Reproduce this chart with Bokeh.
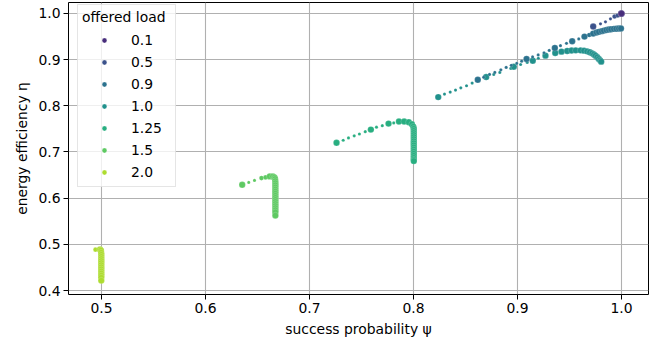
from bokeh.plotting import figure
from bokeh.models import Range1d, FixedTicker, Legend, LegendItem, ColumnDataSource
from bokeh.embed import file_html
from bokeh.resources import INLINE

# ---------------- data ----------------
loads = ["0.1", "0.5", "0.9", "1.0", "1.25", "1.5", "2.0"]

psi_01 = [0.9990, 0.9998, 1.0000]
eta_01 = [0.9990, 0.9998, 1.0000]
emph_01 = [1, 2, 2]

psi_05 = [0.9728, 0.9798, 0.9846, 0.9894, 0.9933, 0.9964, 0.9997]
eta_05 = [0.9717, 0.9776, 0.9820, 0.9885, 0.9935, 0.9957, 0.9993]
emph_05 = [2, 0, 0, 0, 1, 1, 2]

psi_09 = [0.8618, 0.8675, 0.8731, 0.8782, 0.8840, 0.8891, 0.8940, 0.8993, 0.9040,
          0.9087, 0.9145, 0.9199, 0.9255, 0.9305, 0.9359, 0.9413, 0.9471, 0.9526,
          0.9589, 0.9644, 0.9690, 0.9728, 0.9760, 0.9782, 0.9810, 0.9830, 0.9855,
          0.9878, 0.9900, 0.9926, 0.9950, 0.9974, 0.9995]
eta_09 = [0.8565, 0.8620, 0.8680, 0.8724, 0.8780, 0.8833, 0.8878, 0.8920, 0.8968,
          0.9015, 0.9060, 0.9102, 0.9150, 0.9200, 0.9254, 0.9304, 0.9354, 0.9398,
          0.9450, 0.9500, 0.9535, 0.9565, 0.9588, 0.9602, 0.9618, 0.9630, 0.9642,
          0.9652, 0.9660, 0.9667, 0.9671, 0.9674, 0.9676]
emph_09 = [2, 0, 0, 0, 0, 0, 0, 0, 0,
           2, 0, 0, 0, 0, 2, 0, 0, 2,
           0, 2, 1, 2, 2, 2, 2, 2, 2,
           2, 2, 2, 2, 2, 2]

psi_10 = [0.8238, 0.8298, 0.8353, 0.8404, 0.8455, 0.8510, 0.8564, 0.8618, 0.8699,
          0.8772, 0.8830, 0.8936, 0.8964, 0.9030, 0.9093, 0.9147, 0.9200, 0.9269,
          0.9363, 0.9423, 0.9478, 0.9520, 0.9560, 0.9606, 0.9640, 0.9670, 0.9695,
          0.9718, 0.9735, 0.9750, 0.9767, 0.9782, 0.9795, 0.9805]
eta_10 = [0.8189, 0.8254, 0.8298, 0.8341, 0.8391, 0.8435, 0.8493, 0.8540, 0.8624,
          0.8680, 0.8724, 0.8811, 0.8848, 0.8895, 0.8941, 0.8978, 0.9030, 0.9087,
          0.9146, 0.9174, 0.9189, 0.9198, 0.9202, 0.9202, 0.9195, 0.9180, 0.9160,
          0.9137, 0.9112, 0.9087, 0.9052, 0.9015, 0.8985, 0.8957]
emph_10 = [2, 0, 0, 0, 0, 0, 0, 0, 2,
           0, 0, 0, 2, 0, 0, 2, 0, 2,
           2, 2, 2, 2, 2, 2, 2, 2, 2,
           2, 2, 2, 2, 2, 2, 2]

psi_125 = [0.7260, 0.7324, 0.7375, 0.7430, 0.7480, 0.7536, 0.7590, 0.7644, 0.7700,
           0.7760, 0.7810, 0.7860, 0.7910, 0.7955, 0.7985, 0.7998, 0.8003, 0.8003,
           0.8003, 0.8003, 0.8003, 0.8003, 0.8003, 0.8003, 0.8003, 0.8003, 0.8003,
           0.8003, 0.8003, 0.8003, 0.8003, 0.8003, 0.8003]
eta_125 = [0.7200, 0.7254, 0.7304, 0.7350, 0.7390, 0.7440, 0.7485, 0.7537, 0.7570,
           0.7615, 0.7630, 0.7660, 0.7660, 0.7645, 0.7600, 0.7550, 0.7505, 0.7460,
           0.7415, 0.7370, 0.7325, 0.7280, 0.7235, 0.7190, 0.7145, 0.7100, 0.7055,
           0.7010, 0.6965, 0.6920, 0.6875, 0.6835, 0.6805]
emph_125 = [2, 0, 0, 0, 0, 0, 2, 0, 0,
            2, 0, 2, 2, 2, 2, 2, 2, 2,
            2, 2, 2, 2, 2, 2, 2, 2, 2,
            2, 2, 2, 2, 2, 2]

psi_15 = [0.6353, 0.6416, 0.6471, 0.6538, 0.6577, 0.6618, 0.6648, 0.6663, 0.6669,
          0.6671, 0.6672, 0.6672, 0.6672, 0.6672, 0.6672, 0.6672, 0.6672, 0.6672,
          0.6672, 0.6672, 0.6672, 0.6672, 0.6672, 0.6672, 0.6672, 0.6672]
eta_15 = [0.6290, 0.6341, 0.6385, 0.6435, 0.6450, 0.6472, 0.6468, 0.6448, 0.6415,
          0.6370, 0.6325, 0.6280, 0.6235, 0.6190, 0.6145, 0.6100, 0.6055, 0.6010,
          0.5965, 0.5920, 0.5875, 0.5830, 0.5785, 0.5740, 0.5695, 0.5625]
emph_15 = [2, 0, 0, 1, 1, 2, 2, 2, 2,
           2, 2, 2, 2, 2, 2, 2, 2, 2,
           2, 2, 2, 2, 2, 2, 2, 2]

psi_20 = [0.4942, 0.4986, 0.4995, 0.4997, 0.4998, 0.4998, 0.4998, 0.4998, 0.4998,
          0.4998, 0.4998, 0.4998, 0.4998, 0.4998, 0.4998, 0.4998, 0.4998]
eta_20 = [0.4885, 0.4890, 0.4865, 0.4820, 0.4775, 0.4730, 0.4685, 0.4640, 0.4595,
          0.4550, 0.4505, 0.4460, 0.4415, 0.4370, 0.4325, 0.4280, 0.4215]
emph_20 = [1, 2, 2, 2, 2, 2, 2, 2, 2,
           2, 2, 2, 2, 2, 2, 2, 2]

x_ticks = [0.5, 0.6, 0.7, 0.8, 0.9, 1.0]
x_tick_labels = ["0.5", "0.6", "0.7", "0.8", "0.9", "1.0"]
y_ticks = [0.4, 0.5, 0.6, 0.7, 0.8, 0.9, 1.0]
y_tick_labels = ["0.4", "0.5", "0.6", "0.7", "0.8", "0.9", "1.0"]

# ---------------- styling ----------------
colors = ["#472d7b", "#3b528b", "#2c728e", "#21918c", "#28ae80", "#5ec962", "#addc30"]
size_by_emph = {0: 3.2, 1: 4.6, 2: 6.4}
FONT = "DejaVu Sans"
FS = "13.9px"

series = [
    (psi_01, eta_01, emph_01),
    (psi_05, eta_05, emph_05),
    (psi_09, eta_09, emph_09),
    (psi_10, eta_10, emph_10),
    (psi_125, eta_125, emph_125),
    (psi_15, eta_15, emph_15),
    (psi_20, eta_20, emph_20),
]

p = figure(
    frame_width=580, frame_height=292,
    min_border_left=68, min_border_right=11, min_border_top=2, min_border_bottom=43,
    output_backend="svg", toolbar_location=None,
    x_range=Range1d(0.5 - 33 / 1040, 1.0 + 27 / 1040),
    y_range=Range1d(0.4 - 4 / 461.67, 1.0 + 11 / 461.67),
    background_fill_color="white", border_fill_color="white",
)

p.outline_line_color = "black"
p.outline_line_width = 1
p.outline_line_alpha = 1

for ax, ticks, labels in ((p.xaxis, x_ticks, x_tick_labels), (p.yaxis, y_ticks, y_tick_labels)):
    ax.ticker = FixedTicker(ticks=ticks)
    ax.major_label_overrides = {t: l for t, l in zip(ticks, labels)}
    ax.axis_line_color = None
    ax.major_tick_in = 0
    ax.major_tick_out = 5
    ax.major_tick_line_color = "black"
    ax.major_tick_line_width = 1
    ax.minor_tick_line_color = None
    ax.major_label_text_font = FONT
    ax.major_label_text_font_size = FS
    ax.major_label_text_color = "black"
    ax.major_label_standoff = 3
    ax.axis_label_text_font = FONT
    ax.axis_label_text_font_size = FS
    ax.axis_label_text_font_style = "normal"
    ax.axis_label_text_color = "black"
    ax.axis_label_standoff = 5

p.xaxis.axis_label = "success probability ψ"
p.yaxis.axis_label = "energy efficiency η"

p.xgrid.ticker = FixedTicker(ticks=x_ticks)
p.ygrid.ticker = FixedTicker(ticks=y_ticks)
for g in (p.xgrid, p.ygrid):
    g.grid_line_color = "#b0b0b0"
    g.grid_line_width = 1.1

renderers = {}
for i in reversed(range(len(loads))):
    xs, ys, em = series[i]
    src = ColumnDataSource(dict(x=xs, y=ys, s=[size_by_emph[e] for e in em]))
    r = p.scatter("x", "y", size="s", source=src, fill_color=colors[i],
                  line_color="white", line_width=0.4, line_alpha=0.45, fill_alpha=1.0)
    renderers[i] = r

items = [LegendItem(label=loads[i], renderers=[renderers[i]]) for i in range(len(loads))]
legend = Legend(
    items=items, location=(9, 107),
    title="offered load", title_text_font=FONT, title_text_font_size=FS,
    title_text_font_style="normal", title_text_color="black", title_standoff=5,
    label_text_font=FONT, label_text_font_size=FS, label_text_color="black",
    glyph_width=44, glyph_height=12, label_height=20, label_width=40,
    label_standoff=5, spacing=2, padding=4, margin=0,
    background_fill_color="white", background_fill_alpha=0.8,
    border_line_color="#cccccc", border_line_width=1,
)
p.add_layout(legend, "center")

open("out.html", "w").write(file_html(p, INLINE))
